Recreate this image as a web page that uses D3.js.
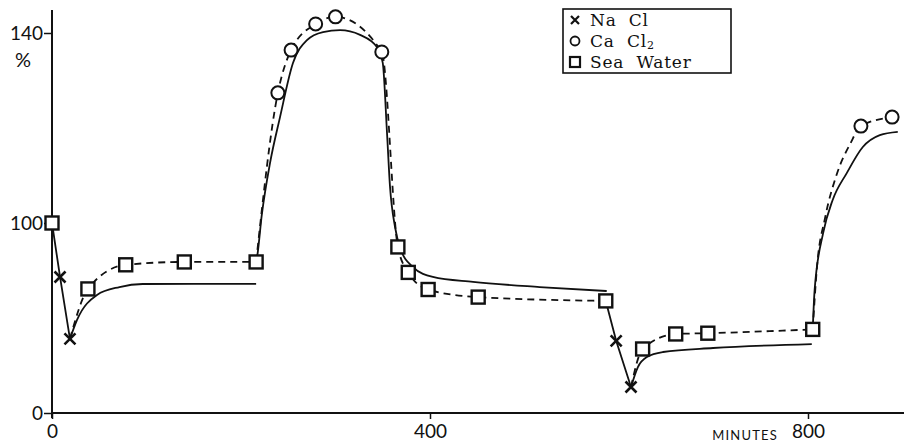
<!DOCTYPE html>
<html><head><meta charset="utf-8">
<script src="https://cdn.jsdelivr.net/npm/d3@7"></script>
<style>
html,body{margin:0;padding:0;background:#fff;}
svg{display:block;}
</style></head>
<body>
<svg id="chart" width="904" height="447"></svg>
<script>
// ---- data (minutes, percent) ----
const xTicks = [0, 400, 800];
const yTicks = [0, 100, 140];

const naclMinutes = [8.5, 19, 597, 612.7];
const naclPct     = [71.6, 39, 38, 13.7];

const cacl2Minutes = [239, 253, 279, 300, 349, 856, 889];
const cacl2Pct     = [127.4, 136.4, 141.9, 143.4, 136, 120.4, 122.3];

const seaMinutes = [0, 38, 78, 140, 216, 366, 377, 398, 451, 586, 625, 660, 694, 805];
const seaPct     = [100, 65.3, 78, 79.5, 79.5, 87.4, 74, 65, 61, 59, 33.7, 41.6, 42, 44];

// solid (smoothed) curves
const solidA = [[0,100],[8.5,71.6],[19,39]];
const solidB = [[19,39],[26.5,49],[47.6,62.1],[71.4,66.3],[96,67.9],[150,68],[216,68]];
const solidC = [[216,79.5],[217,82],[222,101.7],[230.7,112.6],[241.3,122.3],[255,133.7],[269.8,138.5],[286.8,140.2],[304.8,140.6],[326,139.6],[344,137],[350,133.7],[354.5,119],[357.7,107.6],[363,97.9],[368,87.4],[382,76.8],[403,71.6],[445.5,69],[516,66.3],[587,64.2]];
const solidD = [[586,59],[597,38],[612.7,13.7]];
const solidE = [[612.7,13.7],[620,24.2],[629.6,29.5],[646.6,32.1],[699.5,34.2],[804,36.3]];
const solidF = [[805,44],[807,64.7],[816,94.7],[826,104.8],[841,110.5],[858,116],[876,118.5],[895,119.2]];

// dashed curves
const dashA = [[19,39],[38,65.3],[78,78],[140,79.5],[216,79.5]];
const dashB = [[216,79.5],[239,127.4],[253,136.4],[279,141.9],[300,143.4],[349,136],[366,87.4],[377,74],[398,65],[451,61],[586,59]];
const dashC = [[612.7,13.7],[625,33.7],[660,41.6],[694,42],[805,44]];
const dashD = [[805,44],[809.5,76.8],[818,101],[830,110],[845,116.8],[856,120.4],[889,122.3]];

const legendLabels = ["Na Cl", "Ca Cl", "Sea Water"];

// ---- scales ----
const x = d3.scaleLinear().domain([0, 800]).range([52, 808]);
const y = d3.scaleLinear().domain([0, 100, 140]).range([413, 223, 33]);

const svg = d3.select("#chart");
const ink = "#111";

// axes lines
svg.append("line").attr("x1", x(0)).attr("x2", 904).attr("y1", y(0)).attr("y2", y(0))
  .attr("stroke", ink).attr("stroke-width", 2);
svg.append("line").attr("x1", x(0)).attr("x2", x(0)).attr("y1", 10).attr("y2", y(0) + 5)
  .attr("stroke", ink).attr("stroke-width", 2);

// y axis ticks
const yAxis = d3.axisLeft(y).tickValues(yTicks).tickSize(8).tickPadding(1).tickFormat(d3.format("d"));
const gy = svg.append("g").attr("transform", `translate(${x(0)},0)`).call(yAxis);
gy.select(".domain").remove();
gy.selectAll("line").attr("stroke", ink).attr("stroke-width", 1.5);
gy.selectAll("text").attr("font-family", "Lato, 'Open Sans', sans-serif").attr("font-size", 19).attr("fill", ink);

svg.append("text").attr("x", 23).attr("y", 67).attr("text-anchor", "middle")
  .attr("font-family", "Lato, 'Open Sans', sans-serif").attr("font-size", 20).attr("fill", ink).text("%");

// x axis ticks
const xAxis = d3.axisBottom(x).tickValues(xTicks).tickSize(6).tickPadding(6).tickFormat(d3.format("d"));
const gx = svg.append("g").attr("transform", `translate(0,${y(0)})`).call(xAxis);
gx.select(".domain").remove();
gx.selectAll("line").attr("stroke", ink).attr("stroke-width", 1.5);
gx.selectAll("text").attr("font-family", "Lato, 'Open Sans', sans-serif").attr("font-size", 19).attr("fill", ink);

svg.append("text").attr("x", x(800) - 30).attr("y", 440).attr("text-anchor", "end")
  .attr("font-family", "Lato, 'Open Sans', sans-serif").attr("font-size", 13).attr("letter-spacing", 1.2)
  .attr("fill", ink).text("MINUTES");

// lines
const line = d3.line().x(d => x(d[0])).y(d => y(d[1])).curve(d3.curveMonotoneX);
const lineLin = d3.line().x(d => x(d[0])).y(d => y(d[1]));

[solidB, solidC, solidE, solidF].forEach(s => {
  svg.append("path").attr("d", line(s)).attr("fill", "none").attr("stroke", ink).attr("stroke-width", 1.8);
});
[solidA, solidD].forEach(s => {
  svg.append("path").attr("d", lineLin(s)).attr("fill", "none").attr("stroke", ink).attr("stroke-width", 1.8);
});
[dashA, dashB, dashC, dashD].forEach(s => {
  svg.append("path").attr("d", line(s)).attr("fill", "none").attr("stroke", ink).attr("stroke-width", 1.8)
    .attr("stroke-dasharray", "7,5");
});

// markers
function cross(g, cx, cy, r, w) {
  g.append("path").attr("d", `M${cx-r},${cy-r}L${cx+r},${cy+r}M${cx-r},${cy+r}L${cx+r},${cy-r}`)
    .attr("stroke", ink).attr("stroke-width", w).attr("fill", "none");
}
const gm = svg.append("g");
seaMinutes.forEach((m, i) => {
  gm.append("rect").attr("x", x(m) - 6.5).attr("y", y(seaPct[i]) - 6.5).attr("width", 13).attr("height", 13)
    .attr("fill", "#fff").attr("stroke", ink).attr("stroke-width", 2.4);
});
cacl2Minutes.forEach((m, i) => {
  gm.append("circle").attr("cx", x(m)).attr("cy", y(cacl2Pct[i])).attr("r", 6.5)
    .attr("fill", "#fff").attr("stroke", ink).attr("stroke-width", 2);
});
naclMinutes.forEach((m, i) => cross(gm, x(m), y(naclPct[i]), 5.5, 2.6));

// legend
const lg = svg.append("g");
lg.append("rect").attr("x", 563).attr("y", 9).attr("width", 168).attr("height", 64)
  .attr("fill", "#fff").attr("stroke", ink).attr("stroke-width", 1.6);
const rows = [20, 41, 62];
cross(lg, 575, rows[0], 4, 2.2);
lg.append("circle").attr("cx", 575).attr("cy", rows[1]).attr("r", 4.5).attr("fill", "none").attr("stroke", ink).attr("stroke-width", 1.8);
lg.append("rect").attr("x", 570).attr("y", rows[2] - 5).attr("width", 10).attr("height", 10).attr("fill", "none").attr("stroke", ink).attr("stroke-width", 2.2);
legendLabels.forEach((t, i) => {
  const tx = lg.append("text").attr("x", 590).attr("y", rows[i] + 6)
    .attr("font-family", "'DejaVu Serif', serif").attr("font-size", 17).attr("word-spacing", 6)
    .attr("letter-spacing", 0.8).attr("fill", ink).text(t);
  if (i === 1) tx.append("tspan").attr("font-size", 11).attr("dy", 2).text("2");
});
</script>
</body></html>
